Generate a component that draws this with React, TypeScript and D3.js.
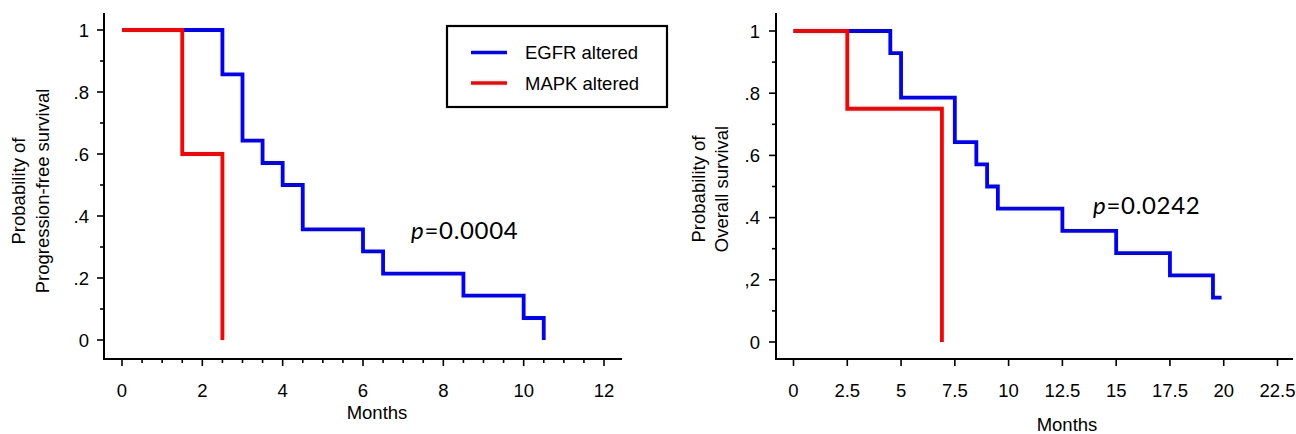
import React from "react";
import * as d3 from "d3";

// ---- data ----
const pfsEgfrTimes = [0, 2.5, 3, 3.5, 4, 4.5, 6, 6.5, 8.5, 10, 10.5];
const pfsEgfrSurv = [1, 0.857, 0.643, 0.571, 0.5, 0.357, 0.286, 0.214, 0.143, 0.071, 0];
const pfsMapkTimes = [0, 1.5, 2.5];
const pfsMapkSurv = [1, 0.6, 0];

const osEgfrTimes = [0, 4.5, 5, 7.5, 8.5, 9, 9.5, 12.5, 15, 17.5, 19.5, 19.9];
const osEgfrSurv = [1, 0.929, 0.786, 0.643, 0.571, 0.5, 0.429, 0.357, 0.286, 0.214, 0.143, 0.143];
const osMapkTimes = [0, 2.5, 6.9];
const osMapkSurv = [1, 0.75, 0];

const leftXTicks = [0, 2, 4, 6, 8, 10, 12];
const rightXTicks = [0, 2.5, 5, 7.5, 10, 12.5, 15, 17.5, 20, 22.5];
const rightXTickLabels = ["0", "2.5", "5", "7.5", "10", "12.5", "15", "17.5", "20", "22.5"];
const yTicks = [0, 0.2, 0.4, 0.6, 0.8, 1];
const leftYTickLabels = ["0", ".2", ".4", ".6", ".8", "1"];
const rightYTickLabels = ["0", ",2", ".4", ".6", ".8", "1"];
const legendLabels = ["EGFR altered", "MAPK altered"];
const seriesColors = ["#0000FF", "#FF0000"];

const FONT = "'Liberation Sans', Arial, sans-serif";

type PanelProps = {
  x: d3.ScaleLinear<number, number>;
  y: d3.ScaleLinear<number, number>;
  xMajor: number[];
  xLabels: string[];
  xMinor: number[];
  yLabels: string[];
  axisLeft: number;
  axisRight: number;
  axisTop: number;
  axisBottom: number;
  yLabelX: number;
  titleLines: string[];
  titleX: number[];
  titleY: number;
  monthsX: number;
  monthsY: number;
  series: { t: number[]; s: number[]; color: string }[];
  pText: string;
  pX: number;
  pY: number;
};

function Panel(p: PanelProps) {
  const line = d3
    .line<[number, number]>()
    .x((d) => p.x(d[0]))
    .y((d) => p.y(d[1]))
    .curve(d3.curveStepAfter);
  const yMinor = d3.range(0.1, 1, 0.2);
  return (
    <g>
      {/* axes */}
      <line x1={p.axisLeft} x2={p.axisLeft} y1={p.axisTop} y2={p.axisBottom + 1} stroke="#000" strokeWidth={2} />
      <line x1={p.axisLeft - 1} x2={p.axisRight} y1={p.axisBottom} y2={p.axisBottom} stroke="#000" strokeWidth={2} />
      {yTicks.map((v, i) => (
        <g key={"yt" + i}>
          <line x1={p.axisLeft - 7} x2={p.axisLeft} y1={p.y(v)} y2={p.y(v)} stroke="#000" strokeWidth={1.6} />
          <text x={p.yLabelX} y={p.y(v)} dy="0.36em" textAnchor="end" fontFamily={FONT} fontSize={18.5} fill="#000">
            {p.yLabels[i]}
          </text>
        </g>
      ))}
      {yMinor.map((v, i) => (
        <line key={"ym" + i} x1={p.axisLeft - 4} x2={p.axisLeft} y1={p.y(v)} y2={p.y(v)} stroke="#000" strokeWidth={1.6} />
      ))}
      {p.xMajor.map((v, i) => (
        <g key={"xt" + i}>
          <line x1={p.x(v)} x2={p.x(v)} y1={p.axisBottom} y2={p.axisBottom + 7} stroke="#000" strokeWidth={1.6} />
          <text x={p.x(v)} y={396.5} textAnchor="middle" fontFamily={FONT} fontSize={18.5} fill="#000">
            {p.xLabels[i]}
          </text>
        </g>
      ))}
      {p.xMinor.map((v, i) => (
        <line key={"xm" + i} x1={p.x(v)} x2={p.x(v)} y1={p.axisBottom} y2={p.axisBottom + 4} stroke="#000" strokeWidth={1.6} />
      ))}
      {/* titles */}
      {p.titleLines.map((t, i) => (
        <text
          key={"tt" + i}
          transform={`translate(${p.titleX[i]},${p.titleY}) rotate(-90)`}
          textAnchor="middle"
          fontFamily={FONT}
          fontSize={18.5}
          fill="#000"
        >
          {t}
        </text>
      ))}
      <text x={p.monthsX} y={p.monthsY} textAnchor="middle" fontFamily={FONT} fontSize={18.5} fill="#000">
        Months
      </text>
      {/* curves */}
      {p.series.map((s, i) => (
        <path
          key={"s" + i}
          d={line(s.t.map((t, j) => [t, s.s[j]] as [number, number])) || ""}
          fill="none"
          stroke={s.color}
          strokeWidth={3.8}
        />
      ))}
      <text x={p.pX} y={p.pY} fontFamily="Lato, 'Open Sans', sans-serif" fontSize={24} letterSpacing={0.7} fill="#000">
        <tspan fontStyle="italic">p</tspan>
        {p.pText}
      </text>
    </g>
  );
}

export default function App() {
  const xL = d3.scaleLinear().domain([0, 12]).range([122, 604]);
  const yL = d3.scaleLinear().domain([0, 1]).range([340, 30]);
  const xR = d3.scaleLinear().domain([0, 22.5]).range([793.5, 1277.5]);
  const yR = d3.scaleLinear().domain([0, 1]).range([342, 31]);

  const leftMinor = d3.range(0, 12.01, 0.5).filter((v) => v % 2 !== 0);

  return (
    <svg
      width={1296}
      height={434}
      style={{ position: "absolute", left: 0, top: 0, display: "block", background: "#fff" }}
    >
      <rect x={0} y={0} width={1296} height={434} fill="#fff" />
      <Panel
        x={xL}
        y={yL}
        xMajor={leftXTicks}
        xLabels={leftXTicks.map(String)}
        xMinor={leftMinor}
        yLabels={leftYTickLabels}
        axisLeft={104}
        axisRight={622}
        axisTop={13}
        axisBottom={359}
        yLabelX={89}
        titleLines={["Probability of", "Progression-free survival"]}
        titleX={[25, 49]}
        titleY={191}
        monthsX={377}
        monthsY={419}
        series={[
          { t: pfsEgfrTimes, s: pfsEgfrSurv, color: seriesColors[0] },
          { t: pfsMapkTimes, s: pfsMapkSurv, color: seriesColors[1] },
        ]}
        pText="=0.0004"
        pX={411}
        pY={238.5}
      />
      <Panel
        x={xR}
        y={yR}
        xMajor={rightXTicks}
        xLabels={rightXTickLabels}
        xMinor={[]}
        yLabels={rightYTickLabels}
        axisLeft={776}
        axisRight={1293}
        axisTop={13}
        axisBottom={359}
        yLabelX={760}
        titleLines={["Probability of", "Overall survival"]}
        titleX={[705, 728]}
        titleY={189}
        monthsX={1067}
        monthsY={430.5}
        series={[
          { t: osEgfrTimes, s: osEgfrSurv, color: seriesColors[0] },
          { t: osMapkTimes, s: osMapkSurv, color: seriesColors[1] },
        ]}
        pText="=0.0242"
        pX={1093}
        pY={213.5}
      />
      {/* legend */}
      <rect x={447} y={26} width={220} height={81} fill="#fff" stroke="#000" strokeWidth={2.2} />
      {legendLabels.map((l, i) => (
        <g key={"lg" + i}>
          <line x1={471} x2={507} y1={52.5 + i * 30.5} y2={52.5 + i * 30.5} stroke={seriesColors[i]} strokeWidth={3.6} />
          <text x={525} y={52.5 + i * 30.5} dy="0.36em" fontFamily={FONT} fontSize={18.5} fill="#000">
            {l}
          </text>
        </g>
      ))}
    </svg>
  );
}
